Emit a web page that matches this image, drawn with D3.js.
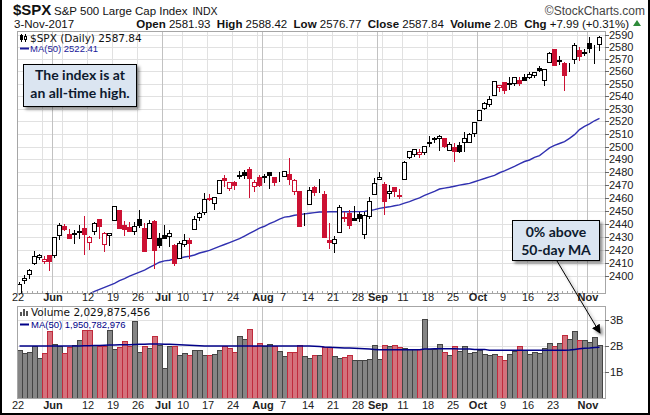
<!DOCTYPE html>
<html>
<head>
<meta charset="utf-8">
<script src="https://cdn.jsdelivr.net/npm/d3@7"></script>
<style>
body { margin: 0; background: #fff; }
svg { display: block; font-family: "Liberation Sans", Arial, sans-serif; }
</style>
</head>
<body>
<div id="chart"></div>
<script>
var dates = [
    "2017-05-22", "2017-05-23", "2017-05-24", "2017-05-25", "2017-05-26", "2017-05-30", "2017-05-31",
    "2017-06-01", "2017-06-02", "2017-06-05", "2017-06-06", "2017-06-07", "2017-06-08", "2017-06-09",
    "2017-06-12", "2017-06-13", "2017-06-14", "2017-06-15", "2017-06-16", "2017-06-19", "2017-06-20",
    "2017-06-21", "2017-06-22", "2017-06-23", "2017-06-26", "2017-06-27", "2017-06-28", "2017-06-29", "2017-06-30",
    "2017-07-03", "2017-07-05", "2017-07-06", "2017-07-07", "2017-07-10", "2017-07-11", "2017-07-12",
    "2017-07-13", "2017-07-14", "2017-07-17", "2017-07-18", "2017-07-19", "2017-07-20", "2017-07-21",
    "2017-07-24", "2017-07-25", "2017-07-26", "2017-07-27", "2017-07-28", "2017-07-31",
    "2017-08-01", "2017-08-02", "2017-08-03", "2017-08-04", "2017-08-07", "2017-08-08", "2017-08-09",
    "2017-08-10", "2017-08-11", "2017-08-14", "2017-08-15", "2017-08-16", "2017-08-17", "2017-08-18",
    "2017-08-21", "2017-08-22", "2017-08-23", "2017-08-24", "2017-08-25", "2017-08-28", "2017-08-29",
    "2017-08-30", "2017-08-31",
    "2017-09-01", "2017-09-05", "2017-09-06", "2017-09-07", "2017-09-08", "2017-09-11", "2017-09-12",
    "2017-09-13", "2017-09-14", "2017-09-15", "2017-09-18", "2017-09-19", "2017-09-20", "2017-09-21",
    "2017-09-22", "2017-09-25", "2017-09-26", "2017-09-27", "2017-09-28", "2017-09-29",
    "2017-10-02", "2017-10-03", "2017-10-04", "2017-10-05", "2017-10-06", "2017-10-09", "2017-10-10",
    "2017-10-11", "2017-10-12", "2017-10-13", "2017-10-16", "2017-10-17", "2017-10-18", "2017-10-19",
    "2017-10-20", "2017-10-23", "2017-10-24", "2017-10-25", "2017-10-26", "2017-10-27", "2017-10-30", "2017-10-31",
    "2017-11-01", "2017-11-02", "2017-11-03"
];

var opens = [
    2387.21, 2397.04, 2401.41, 2409.54, 2414.50, 2411.67, 2415.63,
    2415.65, 2431.28, 2437.83, 2431.92, 2432.03, 2434.27, 2436.39, 2425.88, 2434.15, 2443.75, 2424.14,
    2431.24, 2442.55, 2450.66, 2439.31, 2437.40, 2434.65, 2443.32, 2436.34, 2428.70, 2442.38, 2429.20,
    2431.39, 2430.78, 2423.44, 2413.52, 2424.51, 2427.35, 2435.75, 2444.99, 2449.16, 2459.50, 2455.88,
    2463.85, 2475.56, 2467.40, 2472.04, 2477.88, 2479.97, 2482.76, 2469.12, 2475.94,
    2477.10, 2480.38, 2476.03, 2476.88, 2477.14, 2478.35, 2465.35, 2465.38, 2441.04, 2454.96, 2468.66,
    2468.63, 2462.95, 2427.64, 2425.50, 2433.75, 2444.88, 2447.91, 2444.72, 2447.35, 2431.94, 2446.06, 2462.65,
    2474.42, 2470.35, 2463.83, 2468.06, 2462.25, 2474.52, 2491.94, 2493.89, 2494.56, 2495.67, 2502.51,
    2506.29, 2506.84, 2507.16, 2497.26, 2499.39, 2501.04, 2503.30, 2503.41, 2510.59,
    2521.20, 2530.34, 2533.48, 2540.86, 2547.44, 2551.39, 2549.99, 2550.62, 2552.88, 2555.66, 2555.57,
    2557.17, 2562.87, 2553.39, 2567.56, 2578.08, 2568.66, 2566.52, 2560.08, 2570.26, 2577.75, 2575.99,
    2583.21, 2579.46, 2581.93
];

var highs = [
    2395.46, 2400.85, 2405.58, 2418.71, 2416.68, 2415.26, 2415.99,
    2430.06, 2440.23, 2439.55, 2436.21, 2435.28, 2439.27, 2446.20, 2430.38, 2441.49, 2443.75, 2433.95,
    2433.15, 2453.82, 2450.66, 2442.23, 2441.62, 2441.40, 2450.42, 2440.15, 2442.97, 2442.73, 2432.71,
    2439.17, 2434.90, 2424.28, 2426.92, 2432.00, 2429.30, 2445.76, 2449.32, 2463.54, 2462.82, 2460.92,
    2473.83, 2477.62, 2472.54, 2473.10, 2481.24, 2481.69, 2484.04, 2473.53, 2477.96,
    2478.51, 2480.38, 2476.03, 2480.00, 2480.95, 2490.87, 2474.41, 2465.38, 2448.09, 2468.22, 2468.90,
    2474.93, 2465.02, 2440.27, 2430.58, 2454.77, 2448.91, 2450.39, 2453.96, 2449.12, 2449.19, 2460.31, 2475.01,
    2480.38, 2471.97, 2469.64, 2468.62, 2467.11, 2488.95, 2496.77, 2498.37, 2498.43, 2500.23, 2508.32,
    2507.84, 2508.85, 2507.16, 2503.47, 2502.54, 2503.51, 2511.75, 2510.81, 2519.44,
    2529.23, 2535.13, 2540.53, 2552.51, 2549.41, 2551.82, 2555.23, 2555.24, 2555.33, 2557.65, 2559.47,
    2559.71, 2564.11, 2562.36, 2575.44, 2578.29, 2572.18, 2567.40, 2567.07, 2582.98, 2580.03, 2578.29,
    2588.40, 2581.11, 2588.42
];

var lows = [
    2386.92, 2393.88, 2397.99, 2408.01, 2412.20, 2409.43, 2403.59,
    2413.54, 2427.71, 2434.32, 2428.12, 2424.75, 2427.94, 2415.70, 2419.97, 2431.28, 2428.34, 2418.53,
    2422.88, 2441.79, 2436.60, 2430.74, 2433.27, 2431.11, 2437.03, 2419.38, 2428.02, 2405.70, 2421.65,
    2428.69, 2422.05, 2407.70, 2413.52, 2422.27, 2412.79, 2435.75, 2441.69, 2446.69, 2457.16, 2450.34,
    2463.85, 2468.43, 2465.06, 2466.32, 2474.91, 2474.94, 2459.93, 2464.66, 2468.53,
    2471.14, 2466.48, 2468.85, 2472.08, 2475.88, 2470.32, 2462.08, 2437.75, 2437.85, 2454.96, 2461.61,
    2463.86, 2430.01, 2420.69, 2417.35, 2433.67, 2441.42, 2436.19, 2442.22, 2441.50, 2428.20, 2443.77, 2462.65,
    2473.85, 2446.55, 2459.20, 2460.29, 2459.40, 2474.52, 2490.37, 2492.14, 2491.35, 2493.16, 2499.92,
    2503.19, 2496.67, 2499.00, 2496.54, 2488.03, 2495.12, 2495.91, 2502.93, 2507.99,
    2520.40, 2528.85, 2531.80, 2540.02, 2543.79, 2541.60, 2544.86, 2547.95, 2548.31, 2552.09, 2553.86,
    2554.69, 2559.67, 2547.92, 2567.56, 2564.33, 2565.58, 2544.00, 2559.80, 2565.94, 2568.25, 2572.15,
    2574.92, 2566.17, 2576.77
];

var closes = [
    2394.02, 2398.42, 2404.39, 2415.07, 2415.82, 2412.91, 2411.80,
    2430.06, 2439.07, 2436.10, 2429.33, 2433.14, 2433.79, 2431.77, 2429.39, 2440.35, 2437.92, 2432.46,
    2433.15, 2453.46, 2437.03, 2435.61, 2434.50, 2438.30, 2439.07, 2419.38, 2440.69, 2419.70, 2423.41,
    2429.01, 2432.54, 2409.75, 2425.18, 2427.43, 2425.53, 2443.25, 2447.83, 2459.27, 2459.14, 2460.61,
    2473.83, 2473.45, 2472.54, 2469.91, 2477.13, 2477.83, 2475.42, 2472.10, 2470.30,
    2476.35, 2477.57, 2472.16, 2476.83, 2480.91, 2474.92, 2474.02, 2438.21, 2441.32, 2465.84, 2464.61,
    2468.11, 2430.01, 2425.55, 2428.37, 2452.51, 2444.04, 2438.97, 2443.05, 2444.24, 2446.30, 2457.59, 2471.65,
    2476.55, 2457.85, 2465.54, 2465.10, 2461.43, 2488.11, 2496.48, 2498.37, 2495.62, 2500.23, 2503.87,
    2506.65, 2508.24, 2500.60, 2502.22, 2496.66, 2496.84, 2507.04, 2510.06, 2519.36,
    2529.12, 2534.58, 2537.74, 2552.07, 2549.33, 2544.73, 2550.64, 2555.24, 2550.93, 2553.17, 2557.64,
    2559.36, 2561.26, 2562.10, 2575.21, 2564.98, 2569.13, 2557.15, 2560.40, 2581.07, 2572.83, 2575.26,
    2579.36, 2579.85, 2587.84
];

var prevClose = 2381.73;

// volume in billions of shares
var volumes = [
    1.83, 1.75, 1.78, 2.00, 1.53, 1.75, 2.57,
    2.09, 1.99, 1.72, 1.95, 2.05, 2.22, 2.60, 2.60, 2.05, 2.01, 2.01,
    2.60, 1.87, 1.98, 2.18, 1.99, 2.95, 1.78, 2.01, 1.94, 2.40, 2.05,
    1.15, 1.99, 1.99, 1.67, 1.75, 1.64, 1.83, 1.83, 1.64, 1.64, 1.71,
    1.83, 2.00, 1.94, 1.78, 2.40, 2.26, 2.67, 2.00, 2.13,
    2.00, 2.09, 2.00, 1.82, 1.60, 1.78, 1.78, 2.05, 1.63, 1.55, 1.67,
    1.67, 1.95, 1.95, 1.63, 1.55, 1.59, 1.67, 1.48, 1.48, 1.48, 1.51, 2.05,
    1.51, 2.05, 2.01, 2.05, 1.98, 1.94, 1.90, 1.90, 1.90, 3.05, 1.90,
    1.90, 2.09, 1.78, 1.67, 2.01, 1.82, 2.01, 1.75, 1.78,
    1.83, 1.71, 1.67, 1.71, 1.63, 1.48, 1.71, 1.82, 2.01, 1.86, 1.71,
    1.78, 1.75, 1.91, 2.13, 2.01, 2.13, 2.44, 2.28, 2.59, 2.25, 2.25,
    2.17, 2.36, 2.03
];

var ma50 = [
    2365.0, 2366.5, 2368.0, 2369.5, 2371.0, 2372.5, 2374.0,
    2375.5, 2377.0, 2378.5, 2380.0, 2381.5, 2383.0, 2384.5, 2386.5, 2388.5, 2390.0, 2391.5,
    2393.0, 2394.5, 2396.5, 2398.0, 2400.0, 2401.5, 2403.0, 2404.5, 2406.5, 2408.5, 2410.5,
    2411.5, 2412.0, 2413.0, 2413.5, 2414.5, 2415.0, 2416.0, 2417.5, 2418.5, 2419.5, 2421.0,
    2422.5, 2424.0, 2425.5, 2427.0, 2428.5, 2430.5, 2432.5, 2434.5, 2436.5,
    2438.0, 2440.0, 2441.5, 2443.5, 2445.0, 2445.5, 2446.5, 2447.0, 2447.5, 2448.0, 2448.5,
    2449.0, 2449.0, 2449.2, 2449.2, 2449.2, 2449.2, 2449.2, 2449.3, 2449.3, 2449.5, 2450.0, 2450.8,
    2451.8, 2452.5, 2453.0, 2453.8, 2454.5, 2455.8, 2457.0, 2458.5, 2460.0, 2461.8, 2463.5,
    2465.0, 2466.8, 2467.5, 2468.2, 2469.0, 2469.8, 2470.5, 2471.2, 2472.5,
    2473.8, 2475.0, 2476.3, 2477.5, 2479.5, 2481.0, 2482.8, 2484.5, 2486.5, 2488.3, 2489.5,
    2491.5, 2493.0, 2496.0, 2499.0, 2501.0, 2502.5, 2504.0, 2506.5, 2509.5, 2513.5, 2516.0,
    2518.0, 2520.5, 2522.4
];

var volMa50 = [
    2.00, 2.00, 2.00, 2.00, 2.00, 2.00, 2.00,
    2.00, 2.00, 2.00, 2.00, 2.00, 2.00, 2.01, 2.01, 2.02, 2.02, 2.03,
    2.04, 2.04, 2.05, 2.05, 2.05, 2.06, 2.07, 2.07, 2.08, 2.08, 2.08,
    2.07, 2.07, 2.06, 2.05, 2.04, 2.03, 2.02, 2.01, 2.00, 2.00, 2.00,
    2.00, 2.00, 2.00, 2.00, 2.00, 2.00, 2.00, 2.00, 2.00,
    2.00, 2.00, 2.00, 2.00, 2.00, 2.00, 2.00, 2.00, 2.00, 2.00, 1.99,
    1.98, 1.96, 1.95, 1.94, 1.93, 1.92, 1.92, 1.91, 1.90, 1.89, 1.88, 1.87,
    1.86, 1.86, 1.86, 1.86, 1.86, 1.86, 1.86, 1.86, 1.86, 1.88, 1.88,
    1.89, 1.89, 1.89, 1.89, 1.89, 1.88, 1.88, 1.88, 1.87,
    1.87, 1.87, 1.84, 1.84, 1.84, 1.84, 1.84, 1.84, 1.84, 1.84, 1.84,
    1.84, 1.84, 1.84, 1.84, 1.84, 1.84, 1.84, 1.85, 1.87, 1.89, 1.91,
    1.92, 1.94, 1.95
];

var priceTicks = [2400, 2410, 2420, 2430, 2440, 2450, 2460, 2470, 2480, 2490,
    2500, 2510, 2520, 2530, 2540, 2550, 2560, 2570, 2580, 2590];
var volTicks = [1, 2, 3];
var volTickLabels = ["1B", "2B", "3B"];

var dateLabels = [
    ["2017-05-22", "22"], ["2017-06-01", "Jun"], ["2017-06-12", "12"], ["2017-06-19", "19"],
    ["2017-06-26", "26"], ["2017-07-03", "Jul"], ["2017-07-10", "10"], ["2017-07-17", "17"],
    ["2017-07-24", "24"], ["2017-08-01", "Aug"], ["2017-08-07", "7"], ["2017-08-14", "14"],
    ["2017-08-21", "21"], ["2017-08-28", "28"], ["2017-09-01", "Sep"], ["2017-09-11", "11"],
    ["2017-09-18", "18"], ["2017-09-25", "25"], ["2017-10-02", "Oct"], ["2017-10-09", "9"],
    ["2017-10-16", "16"], ["2017-10-23", "23"], ["2017-11-01", "Nov"]
];

var W = 650, H = 415,
    main = { left: 17, right: 605, top: 31, bottom: 293 },
    vol = { top: 306, bottom: 398 },
    red = "#cc1133";

var parse = d3.timeParse("%Y-%m-%d");
var days = dates.map(parse);

var x = d3.scaleBand()
    .domain(dates)
    .range([main.left, main.left + dates.length * 5]);

var y = d3.scaleLog()
    .domain([2387.2, 2592.9])
    .range([main.bottom, main.top]);

var yv = d3.scaleLinear()
    .domain([0, 3.5])
    .range([vol.bottom, vol.bottom - 91]);

var svg = d3.select("#chart").append("svg")
    .attr("width", W)
    .attr("height", H);

var defs = svg.append("defs");
defs.append("clipPath").attr("id", "clipMain")
    .append("rect").attr("x", main.left).attr("y", main.top)
    .attr("width", main.right - main.left).attr("height", main.bottom - main.top);
defs.append("clipPath").attr("id", "clipVol")
    .append("rect").attr("x", main.left).attr("y", vol.top)
    .attr("width", main.right - main.left).attr("height", vol.bottom - vol.top);
var sh = defs.append("filter").attr("id", "shadow")
    .attr("x", "-20%").attr("y", "-20%").attr("width", "150%").attr("height", "160%");
sh.append("feDropShadow").attr("dx", 2.5).attr("dy", 2.5)
    .attr("stdDeviation", 1.5).attr("flood-color", "#000").attr("flood-opacity", 0.45);
defs.append("marker").attr("id", "arrow")
    .attr("viewBox", "0 0 10 10").attr("refX", 9).attr("refY", 5)
    .attr("markerWidth", 9).attr("markerHeight", 9)
    .attr("markerUnits", "userSpaceOnUse")
    .attr("orient", "auto")
    .append("path").attr("d", "M0,0 L10,5 L0,10 z").attr("fill", "#000");

// week and month starts for the vertical grid
var weekStarts = [], monthStarts = [];
days.forEach(function (d, i) {
    if (i == 0 || +d3.timeMonday.floor(d) != +d3.timeMonday.floor(days[i - 1])) weekStarts.push(dates[i]);
    if (i > 0 && d.getMonth() != days[i - 1].getMonth()) monthStarts.push(dates[i]);
});

function vgrid(g, top, bottom) {
    g.selectAll(".wk").data(weekStarts).enter().append("line")
        .attr("x1", function (d) { return x(d) + 0.5; })
        .attr("x2", function (d) { return x(d) + 0.5; })
        .attr("y1", top).attr("y2", bottom)
        .attr("stroke", "#e1e1e1");
    g.selectAll(".mo").data(monthStarts).enter().append("line")
        .attr("x1", function (d) { return x(d) + 0.5; })
        .attr("x2", function (d) { return x(d) + 0.5; })
        .attr("y1", top).attr("y2", bottom)
        .attr("stroke", "#c2c2c2");
}

// ---------- main price panel ----------
var gm = svg.append("g");

gm.selectAll(".hg").data(priceTicks).enter().append("line")
    .attr("x1", main.left).attr("x2", main.right)
    .attr("y1", function (d) { return Math.round(y(d)) + 0.5; })
    .attr("y2", function (d) { return Math.round(y(d)) + 0.5; })
    .attr("stroke", "#e1e1e1");
vgrid(gm.append("g"), main.top, main.bottom);

var plotM = gm.append("g").attr("clip-path", "url(#clipMain)");

plotM.append("path")
    .datum(ma50)
    .attr("fill", "none")
    .attr("stroke", "#3030b0")
    .attr("stroke-width", 1.4)
    .attr("d", d3.line()
        .x(function (d, i) { return x(dates[i]) + 2.5; })
        .y(function (d) { return y(d); }));

var candles = plotM.selectAll(".candle")
    .data(d3.range(dates.length))
    .enter().append("g");

function candleColor(i) {
    var pc = i ? closes[i - 1] : prevClose;
    return closes[i] >= pc ? "#000" : red;
}

candles.append("line")
    .attr("x1", function (i) { return x(dates[i]) + 2.5; })
    .attr("x2", function (i) { return x(dates[i]) + 2.5; })
    .attr("y1", function (i) { return Math.round(y(highs[i])); })
    .attr("y2", function (i) { return Math.round(y(lows[i])); })
    .attr("stroke", candleColor);

candles.append("rect")
    .attr("x", function (i) { return x(dates[i]) + 0.5; })
    .attr("y", function (i) { return Math.round(y(Math.max(opens[i], closes[i]))) + 0.5; })
    .attr("width", 4)
    .attr("height", function (i) {
        return Math.max(0, Math.round(y(Math.min(opens[i], closes[i]))) - Math.round(y(Math.max(opens[i], closes[i]))));
    })
    .attr("fill", function (i) { return closes[i] > opens[i] ? "#fff" : candleColor(i); })
    .attr("stroke", candleColor);

gm.append("rect")
    .attr("x", main.left + 0.5).attr("y", main.top + 0.5)
    .attr("width", main.right - main.left).attr("height", main.bottom - main.top)
    .attr("fill", "none").attr("stroke", "#a6a6a6");

gm.selectAll(".dt").data(dates).enter().append("line")
    .attr("x1", function (d) { return x(d) + 0.5; })
    .attr("x2", function (d) { return x(d) + 0.5; })
    .attr("y1", main.bottom - 2).attr("y2", main.bottom)
    .attr("stroke", "#a6a6a6");

var ya = gm.selectAll(".yt").data(priceTicks).enter().append("g")
    .attr("transform", function (d) { return "translate(0," + (Math.round(y(d)) + 0.5) + ")"; });
ya.append("line").attr("x1", main.right).attr("x2", main.right + 4).attr("stroke", "#666");
ya.append("text")
    .attr("x", main.right + 4).attr("dy", "0.36em")
    .attr("font-size", 11).attr("fill", "#222")
    .text(function (d) { return d; });

function xLabels(g, yy) {
    g.selectAll(".xl").data(dateLabels).enter().append("text")
        .attr("x", function (d) { return x(d[0]) + 1; })
        .attr("y", yy)
        .attr("text-anchor", "middle")
        .attr("font-size", 11)
        .attr("font-weight", function (d) { return isNaN(+d[1]) ? "bold" : "normal"; })
        .attr("fill", "#222")
        .text(function (d) { return d[1]; });
}
xLabels(gm, 301);

// legend inside the price panel
var lg = gm.append("g");
lg.append("line").attr("x1", 21.5).attr("x2", 21.5).attr("y1", 34).attr("y2", 42).attr("stroke", "#000");
lg.append("rect").attr("x", 20.5).attr("y", 35.5).attr("width", 2).attr("height", 4).attr("fill", "#000").attr("stroke", "#000");
lg.append("line").attr("x1", 25.5).attr("x2", 25.5).attr("y1", 34).attr("y2", 42).attr("stroke", "#000");
lg.append("rect").attr("x", 24.5).attr("y", 36.5).attr("width", 2).attr("height", 3).attr("fill", "#fff").attr("stroke", "#000");
lg.append("text").attr("x", 30).attr("y", 42)
    .attr("font-family", "DejaVu Sans").attr("font-size", 10.5).attr("fill", "#111")
    .text("$SPX (Daily) 2587.84");
lg.append("line").attr("x1", 20).attr("x2", 29).attr("y1", 48.5).attr("y2", 48.5)
    .attr("stroke", "#1a1a9a").attr("stroke-width", 2);
lg.append("text").attr("x", 30).attr("y", 52)
    .attr("font-size", 9.5).attr("fill", "#1a1a9a")
    .text("MA(50) 2522.41");

// ---------- volume panel ----------
var gv = svg.append("g");

gv.selectAll(".vg").data(volTicks).enter().append("line")
    .attr("x1", main.left).attr("x2", main.right)
    .attr("y1", function (d) { return Math.round(yv(d)) + 0.5; })
    .attr("y2", function (d) { return Math.round(yv(d)) + 0.5; })
    .attr("stroke", "#e1e1e1");
vgrid(gv.append("g"), vol.top, vol.bottom);

var plotV = gv.append("g").attr("clip-path", "url(#clipVol)");

plotV.selectAll(".bar")
    .data(d3.range(dates.length))
    .enter().append("rect")
    .attr("x", function (i) { return x(dates[i]) + 0.5; })
    .attr("y", function (i) { return Math.round(yv(volumes[i])) + 0.5; })
    .attr("width", 5)
    .attr("height", function (i) { return vol.bottom - Math.round(yv(volumes[i])); })
    .attr("fill", function (i) { return candleColor(i) == red ? "#d4717c" : "#858585"; })
    .attr("stroke", function (i) { return candleColor(i) == red ? "#c02a3c" : "#444"; });

plotV.append("path")
    .datum(volMa50)
    .attr("fill", "none")
    .attr("stroke", "#000088")
    .attr("stroke-width", 1.5)
    .attr("d", d3.line()
        .x(function (d, i) { return x(dates[i]) + 2.5; })
        .y(function (d) { return yv(d); }));

gv.append("rect")
    .attr("x", main.left + 0.5).attr("y", vol.top + 0.5)
    .attr("width", main.right - main.left).attr("height", vol.bottom - vol.top)
    .attr("fill", "none").attr("stroke", "#a6a6a6");

var va = gv.selectAll(".vt").data(volTicks).enter().append("g")
    .attr("transform", function (d) { return "translate(0," + (Math.round(yv(d)) + 0.5) + ")"; });
va.append("line").attr("x1", main.right).attr("x2", main.right + 4).attr("stroke", "#666");
va.append("text")
    .attr("x", main.right + 5).attr("dy", "0.36em")
    .attr("font-size", 11).attr("fill", "#222")
    .text(function (d, i) { return volTickLabels[i]; });

xLabels(gv, 409);

var vl = gv.append("g");
[[20, 4], [23, 7], [26, 5]].forEach(function (b) {
    vl.append("rect").attr("x", b[0]).attr("y", 316 - b[1]).attr("width", 2).attr("height", b[1]).attr("fill", "#555");
});
vl.append("text").attr("x", 31).attr("y", 316)
    .attr("font-family", "DejaVu Sans").attr("font-size", 10.5).attr("fill", "#111")
    .text("Volume 2,029,875,456");
vl.append("line").attr("x1", 20).attr("x2", 29).attr("y1", 324.5).attr("y2", 324.5)
    .attr("stroke", "#000088").attr("stroke-width", 2);
vl.append("text").attr("x", 31).attr("y", 328)
    .attr("font-size", 9.5).attr("fill", "#000088")
    .text("MA(50) 1,950,782,976");

// ---------- header ----------
var hd = svg.append("g").attr("fill", "#111");
hd.append("text").attr("x", 13).attr("y", 15)
    .attr("font-size", 15).attr("font-weight", "bold").text("$SPX");
var ttl = hd.append("text").attr("x", 54).attr("y", 15).attr("font-size", 11.5);
ttl.append("tspan").text("S&P 500 Large Cap Index");
ttl.append("tspan").attr("dx", 5).attr("font-size", 10.5).text("INDX");
hd.append("text").attr("x", 645).attr("y", 15)
    .attr("text-anchor", "end").attr("font-size", 12).attr("fill", "#444")
    .text("\u00a9StockCharts.com");
hd.append("text").attr("x", 14).attr("y", 28)
    .attr("font-size", 11.5).text("3-Nov-2017");

var stats = hd.append("text").attr("x", 629).attr("y", 28)
    .attr("text-anchor", "end").attr("font-size", 11.5)
    .style("white-space", "pre");
[["Open", " 2581.93  "], ["High", " 2588.42  "], ["Low", " 2576.77  "],
 ["Close", " 2587.84  "], ["Volume", " 2.0B  "], ["Chg", " +7.99 (+0.31%)"]].forEach(function (p) {
    stats.append("tspan").attr("font-weight", "bold").text(p[0]);
    stats.append("tspan").text(p[1]);
});
hd.append("path").attr("d", "M633,26 L641,26 L637,20 z").attr("fill", "#2e8b3a");

// ---------- annotations ----------
function note(x0, y0, w, h, lines, y1, y2) {
    var g = svg.append("g");
    g.append("rect").attr("x", x0 + 0.5).attr("y", y0 + 0.5).attr("width", w).attr("height", h)
        .attr("fill", "#dbe5f1").attr("stroke", "#000").attr("filter", "url(#shadow)");
    g.selectAll("text").data(lines).enter().append("text")
        .attr("x", x0 + w / 2 + 0.5)
        .attr("y", function (d, i) { return i ? y2 : y1; })
        .attr("text-anchor", "middle")
        .attr("font-family", "Lato, 'Open Sans', sans-serif")
        .attr("font-weight", "bold").attr("font-size", 14)
        .attr("fill", "#0d1a2e")
        .text(function (d) { return d; });
}
note(23, 64, 113, 42, ["The index is at", "an all-time high."], 80, 98);

svg.append("line")
    .attr("x1", 557).attr("y1", 261).attr("x2", 600).attr("y2", 333)
    .attr("stroke", "#000").attr("stroke-width", 1)
    .attr("marker-end", "url(#arrow)")
    .attr("filter", "url(#shadow)");
note(512, 220, 87, 40, ["0% above", "50-day MA"], 237, 255);

// outer frame
svg.append("path")
    .attr("d", "M1,0 V414 H649 V0")
    .attr("fill", "none").attr("stroke", "#000").attr("stroke-width", 2);
</script>
</body>
</html>
